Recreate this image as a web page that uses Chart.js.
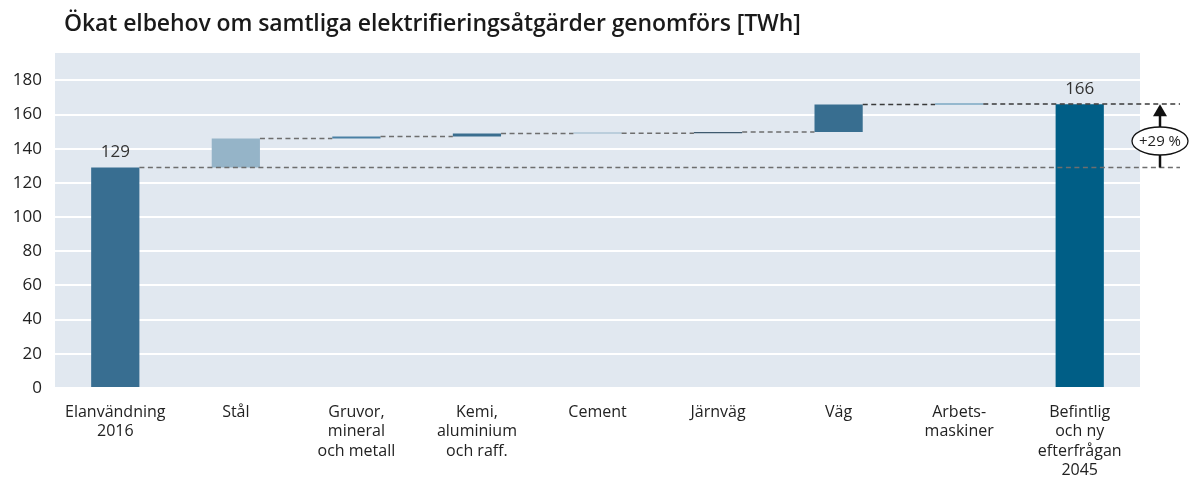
<!DOCTYPE html>
<html><head><meta charset="utf-8">
<script src="https://cdn.jsdelivr.net/npm/chart.js@4.4.1/dist/chart.umd.min.js"></script>
<style>
html,body{margin:0;padding:0;background:#fff;}
#wrap{position:relative;width:1191px;height:479px;}
#title{position:absolute;left:64px;top:6px;font-family:"Open Sans",sans-serif;font-weight:600;font-size:23px;color:#1a1a1a;white-space:nowrap;letter-spacing:-0.1px;}
canvas{position:absolute;left:0;top:0;}
</style></head>
<body>
<div id="wrap">
<canvas id="c" width="1191" height="479"></canvas>
<div id="title">Ökat elbehov om samtliga elektrifieringsåtgärder genomförs [TWh]</div>
</div>
<script>
const categories = [['Elanvändning','2016'],'Stål',['Gruvor,','mineral','och metall'],['Kemi,','aluminium','och raff.'],'Cement','Järnväg','Väg',['Arbets-','maskiner'],['Befintlig','och ny','efterfrågan','2045']];
const startValue = 129;
const increments = [17.0, 1.2, 1.7, 0.2, 0.7, 16.0, 0.4];
const endValue = 166;
const changeLabel = '+29 %';
const yTicks = [0,20,40,60,80,100,120,140,160,180];

const colors = ['#386e91','#95b4c8','#4a80a4','#3a6e8f','#95b4c8','#3f5a6e','#386e90','#4a87ac','#005e86'];

// build floating bars
const barData = [[0,startValue]];
let acc = startValue;
increments.forEach(d => { barData.push([acc, acc + d]); acc += d; });
barData.push([0,endValue]);

const FONT = '"Open Sans", sans-serif';

const decor = {
  id:'decor',
  beforeDraw(chart){
    const {ctx, chartArea:a} = chart;
    ctx.save();
    ctx.fillStyle = '#e1e8f0';
    ctx.fillRect(a.left, a.top, a.right-a.left, a.bottom-a.top);
    ctx.restore();
  },
  afterDatasetsDraw(chart){
    const {ctx} = chart;
    const y = chart.scales.y;
    const meta = chart.getDatasetMeta(0);
    const els = meta.data;
    const farX = 1180;
    ctx.save();
    ctx.lineWidth = 1.5;
    ctx.setLineDash([5,3.5]);
    for (let i=0;i<els.length-1;i++){
      const top = barData[i][1];
      const x0 = els[i].x + els[i].width/2;
      let x1 = els[i+1].x - els[i+1].width/2;
      if (i===0 || i===els.length-2) x1 = farX;
      ctx.strokeStyle = top > 160 ? '#3a3a3a' : '#6e6e6e';
      ctx.beginPath();
      ctx.moveTo(x0, y.getPixelForValue(top));
      ctx.lineTo(x1, y.getPixelForValue(top));
      ctx.stroke();
    }
    ctx.restore();
    ctx.save();
    ctx.fillStyle = '#333';
    ctx.font = '17px ' + FONT;
    ctx.textAlign = 'center';
    ctx.textBaseline = 'bottom';
    ctx.fillText(String(startValue), els[0].x, y.getPixelForValue(startValue) - 7);
    ctx.fillText(String(endValue), els[els.length-1].x, y.getPixelForValue(endValue) - 7);
    ctx.restore();
    const ax = 1160;
    const yLow = y.getPixelForValue(startValue);
    const yHigh = y.getPixelForValue(endValue);
    const yMid = y.getPixelForValue(144.5);
    ctx.save();
    ctx.strokeStyle = '#111';
    ctx.fillStyle = '#111';
    ctx.lineWidth = 2.5;
    ctx.beginPath();
    ctx.moveTo(ax, yLow);
    ctx.lineTo(ax, yHigh + 10);
    ctx.stroke();
    ctx.beginPath();
    ctx.moveTo(ax, yHigh);
    ctx.lineTo(ax - 7, yHigh + 12);
    ctx.lineTo(ax + 7, yHigh + 12);
    ctx.closePath();
    ctx.fill();
    ctx.beginPath();
    ctx.ellipse(ax, yMid, 28, 14, 0, 0, Math.PI*2);
    ctx.fillStyle = '#fff';
    ctx.fill();
    ctx.lineWidth = 1.3;
    ctx.stroke();
    ctx.fillStyle = '#222';
    ctx.font = '15px ' + FONT;
    ctx.textAlign = 'center';
    ctx.textBaseline = 'middle';
    ctx.fillText(changeLabel, ax, yMid + 1);
    ctx.restore();
  }
};

new Chart(document.getElementById('c'), {
  type:'bar',
  data:{
    labels: categories,
    datasets:[{
      data: barData,
      backgroundColor: colors,
      borderWidth: 0,
      barPercentage: 0.4,
      categoryPercentage: 1,
      minBarLength: 1
    }]
  },
  options:{
    responsive:false,
    animation:false,
    layout:{padding:{top:53,right:51,left:0,bottom:0}},
    plugins:{legend:{display:false},tooltip:{enabled:false},title:{display:false}},
    scales:{
      x:{
        grid:{display:false},
        border:{display:false},
        ticks:{color:'#222',font:{family:FONT,size:16},padding:7,maxRotation:0,autoSkip:false},
        afterFit(s){ s.height = 91; }
      },
      y:{
        min:0, max:196,
        grid:{color:'#ffffff',lineWidth:2,drawTicks:false},
        border:{display:false},
        ticks:{stepSize:20,color:'#222',font:{family:FONT,size:17},padding:13},
        afterBuildTicks(s){ s.ticks = yTicks.map(v => ({value:v})); },
        afterFit(s){ s.width = 55; }
      }
    }
  },
  plugins:[decor]
});
</script>
</body></html>
